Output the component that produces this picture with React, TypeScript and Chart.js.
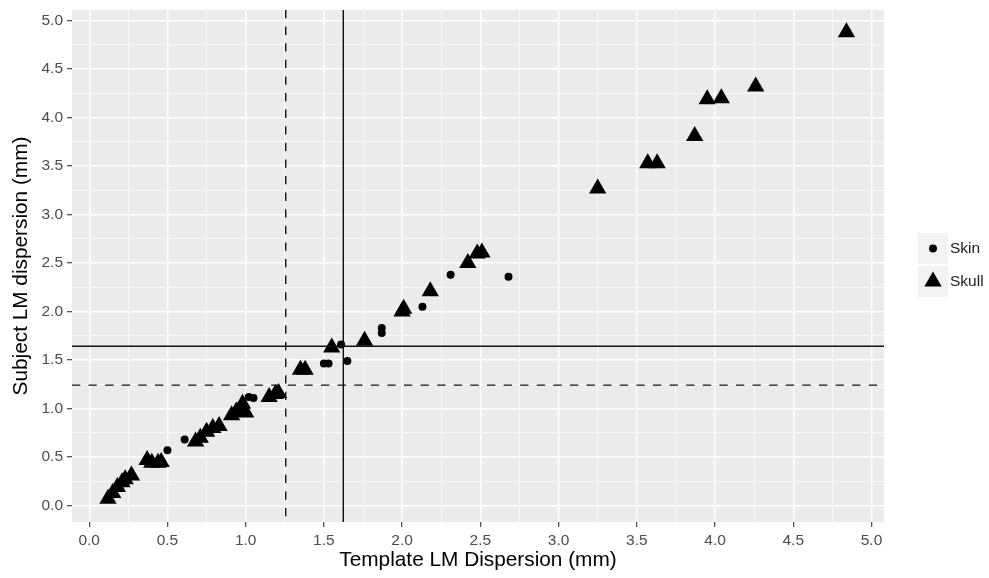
import React, { useEffect, useRef } from "react";
import { Chart, registerables } from "chart.js";

Chart.register(...registerables);

// ---- data ----
const skullX = [0.12, 0.15, 0.18, 0.21, 0.23, 0.27, 0.37, 0.40, 0.44, 0.46, 0.68, 0.71, 0.75, 0.79, 0.83, 0.91, 0.94, 0.97, 1.00, 0.98, 1.15, 1.19, 1.21, 1.35, 1.38, 1.55, 1.76, 2.00, 2.01, 2.18, 2.42, 2.48, 2.51, 3.25, 3.57, 3.63, 3.87, 3.95, 4.04, 4.26, 4.84];
const skullY = [0.07, 0.13, 0.19, 0.24, 0.27, 0.31, 0.47, 0.44, 0.44, 0.45, 0.66, 0.70, 0.76, 0.80, 0.82, 0.93, 0.97, 1.00, 0.96, 1.05, 1.12, 1.15, 1.16, 1.40, 1.40, 1.63, 1.70, 2.00, 2.03, 2.21, 2.50, 2.60, 2.61, 3.27, 3.53, 3.53, 3.81, 4.19, 4.20, 4.32, 4.88];

const skinX = [0.50, 0.61, 1.02, 1.05, 1.50, 1.53, 1.61, 1.65, 1.87, 1.87, 2.13, 2.31, 2.68];
const skinY = [0.57, 0.68, 1.12, 1.11, 1.465, 1.465, 1.66, 1.49, 1.78, 1.83, 2.05, 2.38, 2.36];

const seriesNames = ["Skin", "Skull"];

const xMajorTicks = [0, 0.5, 1, 1.5, 2, 2.5, 3, 3.5, 4, 4.5, 5];
const xGridTicks = [0, 0.25, 0.5, 0.75, 1, 1.25, 1.5, 1.75, 2, 2.25, 2.5, 2.75, 3, 3.25, 3.5, 3.75, 4, 4.25, 4.5, 4.75, 5];
const yMajorTicks = [0, 0.5, 1, 1.5, 2, 2.5, 3, 3.5, 4, 4.5, 5];
const yGridTicks = [0, 0.25, 0.5, 0.75, 1, 1.25, 1.5, 1.75, 2, 2.25, 2.5, 2.75, 3, 3.25, 3.5, 3.75, 4, 4.25, 4.5, 4.75, 5];

const xLimits = [-0.11, 5.08];
const yLimits = [-0.17, 5.11];

const refLinesX = [
  { value: 1.624, dashed: false },
  { value: 1.256, dashed: true },
];
const refLinesY = [
  { value: 1.643, dashed: false },
  { value: 1.242, dashed: true },
];

const xTitle = "Template LM Dispersion (mm)";
const yTitle = "Subject LM dispersion (mm)";

// ---- styles ----
const FONT = "'Liberation Sans', Arial, Helvetica, sans-serif";
const PANEL_BG = "#ebebeb";
const TICK_TEXT = "#4d4d4d";

const isIn = (arr: number[], v: number) => arr.some((a) => Math.abs(a - v) < 1e-6);

const panelBgPlugin = {
  id: "panelBg",
  beforeDraw(chart: any) {
    const { ctx, chartArea } = chart;
    ctx.save();
    ctx.fillStyle = PANEL_BG;
    ctx.fillRect(chartArea.left, chartArea.top, chartArea.right - chartArea.left, chartArea.bottom - chartArea.top);
    ctx.restore();
  },
};

const refLinesPlugin = {
  id: "refLines",
  afterDatasetsDraw(chart: any) {
    const { ctx, chartArea, scales } = chart;
    ctx.save();
    ctx.beginPath();
    ctx.rect(chartArea.left, chartArea.top, chartArea.right - chartArea.left, chartArea.bottom - chartArea.top);
    ctx.clip();
    ctx.strokeStyle = "#111";
    ctx.lineWidth = 1.4;
    refLinesX.forEach((l) => {
      const px = scales.x.getPixelForValue(l.value);
      ctx.setLineDash(l.dashed ? [8.3, 8.3] : []);
      ctx.beginPath();
      ctx.moveTo(px, chartArea.top);
      ctx.lineTo(px, chartArea.bottom);
      ctx.stroke();
    });
    refLinesY.forEach((l) => {
      const py = scales.y.getPixelForValue(l.value);
      ctx.setLineDash(l.dashed ? [8.3, 8.3] : []);
      ctx.beginPath();
      ctx.moveTo(chartArea.left, py);
      ctx.lineTo(chartArea.right, py);
      ctx.stroke();
    });
    ctx.restore();
  },
};

const legendPlugin = {
  id: "customLegend",
  afterDraw(chart: any) {
    const { ctx } = chart;
    const left = 917;
    const top = 232;
    const w = 32;
    const h = 33;
    ctx.save();
    seriesNames.forEach((name, i) => {
      const y0 = top + i * h;
      ctx.fillStyle = "#f2f2f2";
      ctx.fillRect(left, y0, w, h);
      ctx.strokeStyle = "#ffffff";
      ctx.lineWidth = 1;
      ctx.strokeRect(left + 0.5, y0 + 0.5, w - 1, h - 1);
      const cx = left + w / 2;
      const cy = y0 + h / 2;
      ctx.fillStyle = "#000";
      ctx.beginPath();
      if (name === "Skin") {
        ctx.arc(cx, cy, 4, 0, Math.PI * 2);
      } else {
        const r = 10;
        ctx.moveTo(cx, cy - r);
        ctx.lineTo(cx + r * Math.sin(Math.PI / 3), cy + r / 2);
        ctx.lineTo(cx - r * Math.sin(Math.PI / 3), cy + r / 2);
        ctx.closePath();
      }
      ctx.fill();
      ctx.fillStyle = "#1a1a1a";
      ctx.font = `15.5px ${FONT}`;
      ctx.textAlign = "left";
      ctx.textBaseline = "middle";
      ctx.fillText(name, left + w + 1, cy);
    });
    ctx.restore();
  },
};

export default function App() {
  const canvasRef = useRef<HTMLCanvasElement | null>(null);

  useEffect(() => {
    document.body.style.margin = "0";
    const canvas = canvasRef.current;
    if (!canvas) return;

    const chart = new Chart(canvas, {
      type: "scatter",
      data: {
        datasets: [
          {
            label: seriesNames[0],
            data: skinX.map((x, i) => ({ x, y: skinY[i] })),
            pointStyle: "circle",
            pointRadius: 4,
            pointHoverRadius: 4,
            backgroundColor: "#000",
            borderWidth: 0,
          },
          {
            label: seriesNames[1],
            data: skullX.map((x, i) => ({ x, y: skullY[i] })),
            pointStyle: "triangle",
            pointRadius: 10,
            pointHoverRadius: 10,
            backgroundColor: "#000",
            borderWidth: 0,
          },
        ],
      },
      options: {
        responsive: false,
        animation: false,
        devicePixelRatio: 1,
        layout: { padding: { top: 7, right: 105, bottom: 0, left: 0 } },
        plugins: {
          legend: { display: false },
          tooltip: { enabled: false },
        },
        events: [],
        scales: {
          x: {
            type: "linear",
            min: xLimits[0],
            max: xLimits[1],
            afterBuildTicks: (s: any) => {
              s.ticks = xGridTicks.map((v) => ({ value: v }));
            },
            afterFit: (s: any) => {
              s.height = 56;
              s.paddingLeft = 0;
              s.paddingRight = 0;
            },
            border: { display: false },
            grid: {
              color: "#ffffff",
              lineWidth: (c: any) => (c.tick && isIn(xMajorTicks, c.tick.value) ? 1.4 : 0.7),
              drawTicks: true,
              tickLength: 5,
              tickWidth: 1.1,
              tickColor: (c: any) => (c.tick && isIn(xMajorTicks, c.tick.value) ? "#333333" : "rgba(0,0,0,0)"),
            },
            ticks: {
              autoSkip: false,
              maxRotation: 0,
              minRotation: 0,
              padding: 4,
              color: TICK_TEXT,
              font: { family: FONT, size: 15.5, lineHeight: 1.2 },
              callback: (v: any) => (isIn(xMajorTicks, Number(v)) ? Number(v).toFixed(1) : ""),
            },
            title: {
              display: true,
              text: xTitle,
              color: "#000",
              font: { family: FONT, size: 20.8, lineHeight: 1.2 },
              padding: { top: 0, bottom: 5 },
            },
          },
          y: {
            type: "linear",
            min: yLimits[0],
            max: yLimits[1],
            afterBuildTicks: (s: any) => {
              s.ticks = yGridTicks.map((v) => ({ value: v }));
            },
            afterFit: (s: any) => {
              s.width = 72;
              s.paddingTop = 0;
              s.paddingBottom = 0;
            },
            border: { display: false },
            grid: {
              color: "#ffffff",
              lineWidth: (c: any) => (c.tick && isIn(yMajorTicks, c.tick.value) ? 1.4 : 0.7),
              drawTicks: true,
              tickLength: 5,
              tickWidth: 1.1,
              tickColor: (c: any) => (c.tick && isIn(yMajorTicks, c.tick.value) ? "#333333" : "rgba(0,0,0,0)"),
            },
            ticks: {
              autoSkip: false,
              padding: 4,
              color: TICK_TEXT,
              font: { family: FONT, size: 15.5, lineHeight: 1.2 },
              callback: (v: any) => (isIn(yMajorTicks, Number(v)) ? Number(v).toFixed(1) : ""),
            },
            title: {
              display: true,
              text: yTitle,
              color: "#000",
              font: { family: FONT, size: 20.8, lineHeight: 1.2 },
              padding: { top: 9, bottom: 0 },
            },
          },
        },
      } as any,
      plugins: [panelBgPlugin, refLinesPlugin, legendPlugin],
    });

    return () => {
      chart.destroy();
    };
  }, []);

  return (
    <div style={{ position: "absolute", left: 0, top: 0, width: 989, height: 578, background: "#fff" }}>
      <canvas ref={canvasRef} width={989} height={578} style={{ width: 989, height: 578, display: "block" }} />
    </div>
  );
}
